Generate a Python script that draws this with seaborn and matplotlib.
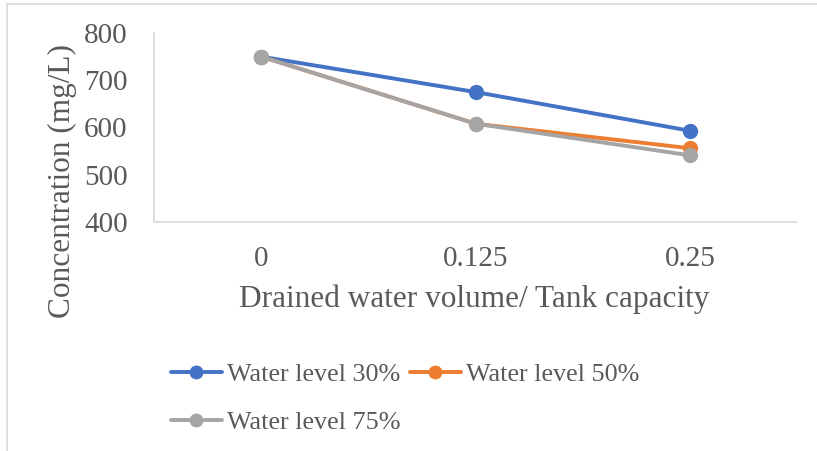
import matplotlib
matplotlib.use("Agg")
import matplotlib.pyplot as plt
import matplotlib.lines as mlines
import seaborn as sns
import pandas as pd

categories = ["0", "0.125", "0.25"]
series_names = ["Water level 30%", "Water level 50%", "Water level 75%"]
level_30 = [750, 675, 593]
level_50 = [750, 608, 556]
level_75 = [750, 608, 541]
y_ticks = [400, 500, 600, 700, 800]

colors = ["#4472C4", "#ED7D31", "#A5A5A5"]
text_color = "#595959"
spine_color = "#D9D9D9"

rows = []
for name, vals in zip(series_names, [level_30, level_50, level_75]):
    for i, v in enumerate(vals):
        rows.append({"pos": i, "cat": categories[i], "value": v, "series": name})
df = pd.DataFrame(rows)

sns.set_theme(style="white")
plt.rcParams["font.family"] = ["Liberation Serif", "DejaVu Serif"]

fig = plt.figure(figsize=(8.17, 4.51), dpi=100)
ax = fig.add_axes([0.1885, 0.5078, 0.976 - 0.1885, 0.9268 - 0.5078])

sns.lineplot(data=df, x="pos", y="value", hue="series", hue_order=series_names,
             palette=colors, marker="o", markersize=11, markeredgewidth=0,
             linewidth=2.8, ax=ax, legend=False, sort=False)

ax.set_xlim(-0.5, len(categories) - 0.5)
ax.set_ylim(400, 800)
ax.set_yticks(y_ticks)
ax.set_yticklabels([str(t) for t in y_ticks])
ax.set_xticks(range(len(categories)))
ax.set_xticklabels(categories)
ax.tick_params(axis="both", length=0, labelsize=21, labelcolor=text_color)
ax.tick_params(axis="y", pad=19)
ax.tick_params(axis="x", pad=17)
ax.set_xlabel("")
ax.set_ylabel("")
for s in ["top", "right"]:
    ax.spines[s].set_visible(False)
for s in ["left", "bottom"]:
    ax.spines[s].set_color(spine_color)
    ax.spines[s].set_linewidth(1.2)

fig.text(474 / 817, 1 - 299 / 451, "Drained water volume/ Tank capacity",
         ha="center", va="center", fontsize=22.5, color=text_color)
fig.text(62 / 817, 1 - 181 / 451, "Concentration (mg/L)", rotation=90,
         ha="center", va="center", fontsize=22.5, color=text_color)

handles = [mlines.Line2D([], [], color=c, marker="o", markersize=10, linewidth=2.8,
                         markeredgewidth=0) for c in colors]
order = [0, 2, 1]
leg = fig.legend([handles[i] for i in order], [series_names[i] for i in order],
                 ncol=2, loc="upper left", bbox_to_anchor=(171 / 817, 1 - 363 / 451),
                 frameon=False, fontsize=18.8, handlelength=1.95, handletextpad=0.2,
                 columnspacing=0.35, labelspacing=0.95, borderaxespad=0, borderpad=0)
for t in leg.get_texts():
    t.set_color(text_color)

# chart-area border (top and left edges visible in crop)
fig.add_artist(mlines.Line2D([7 / 817, 7 / 817], [0, 1 - 4 / 451],
                             transform=fig.transFigure, color="#D9D9D9", linewidth=1.2))
fig.add_artist(mlines.Line2D([7 / 817, 1], [1 - 4 / 451, 1 - 4 / 451],
                             transform=fig.transFigure, color="#D9D9D9", linewidth=1.2))

fig.savefig("out.png", dpi=100)
